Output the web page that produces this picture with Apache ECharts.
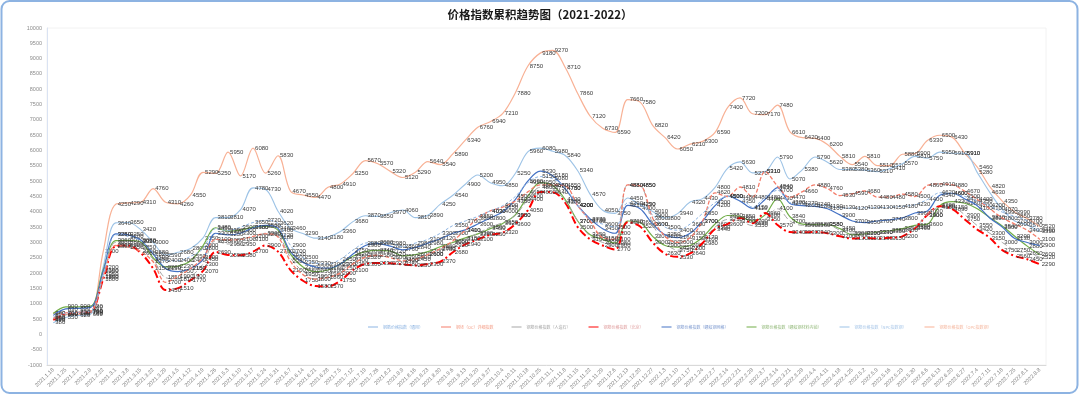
<!DOCTYPE html>
<html>
<head>
<meta charset="utf-8">
<script src="https://cdn.jsdelivr.net/npm/echarts@6/dist/echarts.min.js"></script>
<style>
html,body{margin:0;padding:0;background:#fff;}
#c{width:1080px;height:395px;}
</style>
</head>
<body>
<div id="c"></div>
<script>
const categories = ['2021.1.18','2021.1.25','2021.2.1','2021.2.8','2021.2.22','2021.3.1','2021.3.8','2021.3.15','2021.3.22','2021.3.29','2021.4.5','2021.4.12','2021.4.19','2021.4.26','2021.5.3','2021.5.10','2021.5.17','2021.5.24','2021.5.31','2021.6.7','2021.6.14','2021.6.21','2021.6.28','2021.7.5','2021.7.12','2021.7.19','2021.7.26','2021.8.2','2021.8.9','2021.8.16','2021.8.23','2021.8.30','2021.9.6','2021.9.13','2021.9.20','2021.9.27','2021.10.4','2021.10.11','2021.10.18','2021.10.25','2021.11.1','2021.11.8','2021.11.15','2021.11.22','2021.11.29','2021.12.6','2021.12.13','2021.12.20','2021.12.27','2022.1.3','2022.1.10','2022.1.17','2022.1.24','2022.2.7','2022.2.14','2022.2.21','2022.2.28','2022.3.7','2022.3.14','2022.3.21','2022.3.28','2022.4.4','2022.4.11','2022.4.18','2022.4.25','2022.5.2','2022.5.9','2022.5.16','2022.5.23','2022.5.30','2022.6.6','2022.6.13','2022.6.20','2022.6.27','2022.7.4','2022.7.11','2022.7.18','2022.7.25','2022.8.1','2022.8.8'];

const seriesNames = ['钢筋价格指数（通用）','钢坯（OC）详细指数','钢筋价格指数（人造石）','钢筋价格指数（北京）','钢筋价格指数（螺纹钢网格）','钢筋价格指数（螺纹钢材料内销）','钢筋价格指数（NPC指数钢）','钢筋价格指数（OPC指数钢）'];

const dlbValues = [560,700,720,760,1950, 3250,3200,3050,2680,2400, 2400,2550,2800,3450,3390, 3500,3650,3720,3620,2900, 2500,2330,2300,2450,2750, 2980,3000,2980,2860,2980, 3100,3300,3550,3700,3850, 4030,4200,4500,4950,5150, 5080,4780,4200,3730,3600, 3500,4290,4250,3900,3500, 3400,3600,3950,4300,4500, 4480,4150,4480,4700,4300, 4270,4240,4190,4130,4120, 4130,4130,4150,4180,4230, 4400,4620,4600,4500,4350, 4200,3990,3850,3700,3400];
const salmonValues = [520,700,720,760,1900, 2900,2850,2700,2370,1700, 1900,2150,2500,3100,3080, 3100,3200,3280,3180,2380, 1950,1800,1860,2000,2300, 2520,2580,2500,2400,2450, 2600,2800,3050,3400,3800, 4030,4150,4350,4650,4880, 4880,4850,4200,3700,3150, 3100,4880,4850,3800,3200, 3000,3150,3700,4620,4500, 4810,4480,5310,4840,4470, 4660,4880,4760,4530,4590, 4680,4480,4480,4580,4500, 4860,4910,4880,4670,4400, 4100,3800,3600,3400,3100];
const grayValues = [500,640,680,720,1850, 3000,2960,2850,2450,1850, 1810,1900,2300,3050,2950, 2950,3100,3300,3220,2500, 2050,1900,1950,2150,2400, 2580,2710,2620,2430,2500, 2600,2780,2920,3100,3300, 3500,3650,3880,4400,4800, 4750,4350,3700,3200,3000, 2900,4880,4850,3600,3000, 2750,2800,3100,3500,3750, 3700,3550,3750,4100,3700, 3560,3560,3580,3400,3300, 3300,3330,3350,3400,3500, 3900,4150,4150,3900,3550, 3300,3000,2750,2650,2520];
const redValues = [470,660,700,740,1800, 2880,2900,2660,2150,1450, 1510,1770,2070,2690,2590, 2580,2700,2900,2700,2100, 1750,1580,1570,1750,2100, 2300,2330,2320,2280,2250, 2300,2370,2680,2940,3100, 3250,3320,3600,4050,4650, 4640,4300,3500,3100,2900, 2770,3660,3520,3000,2630, 2530,2640,2980,3440,3600, 3800,3630,3960,3570,3340, 3330,3340,3300,3200,3130, 3150,3130,3150,3200,3460, 3900,4180,4090,3750,3420, 3150,2750,2560,2450,2290];
const blueValues = [620,830,850,880,2050, 3280,3250,3080,2620,2150, 2050,2150,2450,3300,3250, 3300,3480,3560,3460,2700, 2350,2200,2160,2300,2620, 2900,2960,2880,2760,2840, 2980,3120,3300,3410,3600, 3800,4000,4400,5000,5330, 5180,4750,4200,3770,3450, 3300,4210,4100,3600,3250, 3160,3300,3700,4200,4510, 4350,4110,4400,4790,4270, 4200,4180,4100,3900,3700, 3650,3700,3740,3800,3960, 4030,4540,4600,4420,4200, 3800,3500,3130,3000,2900];
const greenValues = [680,900,900,920,2100, 3060,3070,3020,2500,2200, 2230,2400,2900,3480,3370, 3400,3500,3520,3400,2620, 2200,2050,2100,2300,2550, 2700,2740,2720,2560,2600, 2700,2860,3000,3150,3280, 3450,3620,3900,4500,4950, 4860,4400,3700,3250,3100, 2980,3700,3650,3200,2900, 2850,2900,3170,3600,3880, 3850,3700,3900,4430,3840, 3600,3580,3580,3450,3250, 3290,3340,3380,3450,3560, 3600,4200,4330,4280,4100, 3810,3540,3200,2880,2600];
const npcValues = [380,550,620,660,2200, 3640,3650,3420,3000,2590, 2680,2800,3150,3810,3810, 4070,4780,4730,4020,3460, 3290,3140,3180,3360,3680, 3870,3850,3970,4060,3810, 3890,4250,4540,4900,5200, 4950,4850,5250,5960,6080, 5980,5840,5340,4570,4050, 3950,4450,4230,4010,3800, 3940,4320,4430,4800,5420, 5630,5270,5310,5790,5070, 5380,5790,5620,5380,5380, 5360,5310,5410,5570,5810, 5750,5950,5910,5910,5280, 4630,4070,3700,3570,3350];
const opcValues = [700,640,650,700,2700, 4250,4290,4310,4760,4310, 4260,4550,5290,5250,5950, 5170,6080,5260,5830,4670, 4550,4470,4800,4910,5250, 5670,5570,5320,5120,5290, 5640,5540,5890,6340,6760, 6940,7210,7880,8750,9180, 9270,8710,7860,7120,6730, 6590,7660,7580,6820,6420, 6050,6210,6300,6590,7400, 7720,7200,7170,7480,6610, 6420,6400,6200,5810,5540, 5810,5510,5510,5880,5900, 6330,6500,6430,5910,5460, 4820,4350,3990,3780,3520];

const yTicks = {min: -1000, max: 10000, interval: 500};

const allValues = [dlbValues, salmonValues, grayValues, redValues, blueValues, greenValues, npcValues, opcValues];
const styles = [
  {color:'#8db4e2', width:1, type:[3,2]},
  {color:'#f47c6a', width:1.3, type:[4,2]},
  {color:'#a6a6a6', width:1, type:[6,3]},
  {color:'#ff0000', width:2, type:[8,3,2,3]},
  {color:'#4472c4', width:1.2, type:'solid'},
  {color:'#70ad47', width:1.2, type:'solid'},
  {color:'#9dc3e6', width:1.1, type:'solid'},
  {color:'#f8b195', width:1.2, type:'solid'}
];
const legendTextColors = ['#8db4e2','#f4a08a','#a6a6a6','#e0a0a0','#7f9bd0','#93b97a','#a9c7e8','#f5b8a0'];

const series = allValues.map((vals, k) => ({
  name: seriesNames[k],
  type: 'line',
  data: vals,
  smooth: 0.35,
  symbol: 'circle',
  symbolSize: 0.01,
  showSymbol: true,
  showAllSymbol: true,
  z: 10 - k,
  lineStyle: {color: styles[k].color, width: styles[k].width, type: styles[k].type},
  itemStyle: {color: styles[k].color},
  label: {show: true, position: 'right', distance: 2, fontSize: 6, color: '#3a3a3a', fontFamily: 'Liberation Sans'},
  emphasis: {disabled: true}
}));

const chart = echarts.init(document.getElementById('c'), null, {renderer: 'canvas'});
chart.setOption({
  animation: false,
  backgroundColor: '#ffffff',
  title: {
    text: '价格指数累积趋势图（2021-2022）',
    left: 'center', top: 4,
    textStyle: {fontSize: 11.5, fontWeight: 'bold', color: '#1a1a1a', fontFamily: 'Noto Sans CJK SC'}
  },
  graphic: [{
    type: 'rect', silent: true, z: 100,
    shape: {x: 1.5, y: 1, width: 1076, height: 392, r: 8},
    style: {fill: 'none', stroke: '#8db3e2', lineWidth: 2}
  }],
  legend: {
    top: 320, left: 363, width: 700,
    itemWidth: 10, itemHeight: 3, itemGap: 18,
    icon: 'path://M0,0 L10,0 L10,1 L0,1 Z',
    textStyle: {fontSize: 4, fontFamily: 'Noto Sans CJK SC'},
    data: seriesNames.map((n, k) => ({name: n, textStyle: {color: legendTextColors[k]}}))
  },
  grid: {left: 47, right: 34, top: 28, bottom: 30, show: true, borderColor: '#f2f2f2', borderWidth: 1},
  xAxis: {
    type: 'category', data: categories, boundaryGap: true,
    axisLine: {onZero: false, lineStyle: {color: '#d9d9d9'}},
    axisTick: {show: false},
    axisLabel: {interval: 0, rotate: 45, fontSize: 5.5, color: '#7f7f7f', margin: 4, fontFamily: 'Liberation Sans'}
  },
  yAxis: {
    type: 'value', min: yTicks.min, max: yTicks.max, interval: yTicks.interval,
    axisLine: {show: true, lineStyle: {color: '#dae3f3'}},
    axisTick: {show: false},
    splitLine: {show: false},
    axisLabel: {fontSize: 5.5, color: '#8c8c8c', margin: 5, fontFamily: 'Liberation Sans', formatter: function (v) { return String(v); }}
  },
  series: series
});
</script>
</body>
</html>
